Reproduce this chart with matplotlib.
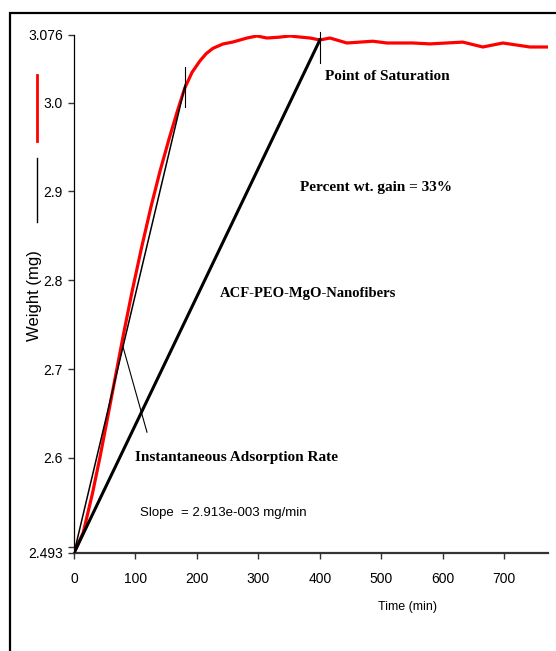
import matplotlib
matplotlib.use("Agg")
import matplotlib.pyplot as plt
from matplotlib.lines import Line2D
from matplotlib.patches import Rectangle

# weight uptake curve (red)
time_min = [0, 15, 30, 42, 54, 65, 81, 95, 110, 125, 140, 155, 168, 180, 192, 205,
            215, 226, 242.3, 258.5, 281.3, 297.6, 313.8, 333, 351.2, 367.5, 384,
            400, 416.3, 443.9, 486.2, 508.9, 551.2, 578.9, 632.5, 665, 697.6,
            741.5, 771]
weight_mg = [2.493, 2.516, 2.560, 2.600, 2.643, 2.683, 2.741, 2.789, 2.837, 2.882,
             2.923, 2.960, 2.990, 3.016, 3.034, 3.047, 3.055, 3.061, 3.0659, 3.0681,
             3.0726, 3.0749, 3.0726, 3.0735, 3.0749, 3.0737, 3.0726, 3.0704, 3.0726,
             3.067, 3.069, 3.067, 3.067, 3.066, 3.068, 3.0625, 3.067, 3.0625, 3.0625]

w0 = 2.493
tangent_slope = 2.913e-3   # mg/min
tangent_end = 181
saturation_time = 400
saturation_weight = 3.0705

x_ticks = [0, 100, 200, 300, 400, 500, 600, 700]
y_ticks = [2.493, 2.5, 2.6, 2.7, 2.8, 2.9, 3.0, 3.076]
y_ticklabels = ["2.493", "", "2.6", "2.7", "2.8", "2.9", "3.0", "3.076"]

sans = ["Liberation Sans", "DejaVu Sans"]
serif = ["Liberation Serif", "DejaVu Serif"]

W, H = 556, 651
fig = plt.figure(figsize=(W / 100, H / 100), dpi=100)
ax = fig.add_axes([74 / W, 1 - 553 / H, 474 / W, 518 / H])

ax.plot(time_min, weight_mg, color="red", lw=2.3, zorder=3)

# chord / tangent for the initial rate
ax.plot([0, tangent_end], [w0, w0 + tangent_slope * tangent_end], color="black", lw=1.1, zorder=4)
ax.plot([tangent_end, tangent_end], [2.995, 3.040], color="black", lw=0.8, zorder=4)

# line to the saturation point
ax.plot([0, saturation_time], [w0, saturation_weight], color="black", lw=2.2, zorder=4)
ax.plot([saturation_time, saturation_time], [3.045, 3.079], color="black", lw=0.8,
        zorder=4, clip_on=False)

# pointer for the rate label
ax.plot([79.7, 118.7], [2.725, 2.629], color="black", lw=0.8, zorder=4)

ax.set_xlim(0, 771)
ax.set_ylim(2.493, 3.076)
ax.set_xticks(x_ticks)
ax.set_xticklabels([str(t) for t in x_ticks], family=sans, fontsize=10)
ax.set_yticks(y_ticks)
ax.set_yticklabels(y_ticklabels, family=sans, fontsize=10)
ax.tick_params(axis="both", direction="out", length=4, width=1, color="#333333")
ax.tick_params(axis="y", pad=4)
ax.tick_params(axis="x", pad=10)

for side in ["top", "right"]:
    ax.spines[side].set_visible(False)
ax.spines["left"].set_linewidth(0.9)
ax.spines["bottom"].set_linewidth(1.6)
ax.spines["bottom"].set_color("#333333")

fig.text(408 / W, 1 - 607 / H, "Time (min)", family=sans, fontsize=9,
         ha="center", va="center")
fig.text(35 / W, 1 - 296 / H, "Weight (mg)", family=sans,
         fontsize=12, rotation=90, ha="center", va="center")

# series key on the left
fig.add_artist(Line2D([37 / W, 37 / W], [1 - 75 / H, 1 - 141 / H], color="red", lw=2))
fig.add_artist(Line2D([37 / W, 37 / W], [1 - 158 / H, 1 - 222 / H], color="black", lw=1))

# outer frame
fig.add_artist(Rectangle((10 / W, -0.1), 1.2, 1 - 13 / H + 0.1, transform=fig.transFigure,
                         fill=False, edgecolor="black", lw=1.6))

ann = dict(family=serif, fontsize=11, fontweight="bold", va="center", ha="left")
fig.text(325 / W, 1 - 77 / H, "Point of Saturation", **ann)
fig.text(300 / W, 1 - 187 / H, "Percent wt. gain = 33%", **ann)
fig.text(220 / W, 1 - 294 / H, "ACF-PEO-MgO-Nanofibers", **dict(ann, fontsize=10.5))
fig.text(135 / W, 1 - 458 / H, "Instantaneous Adsorption Rate", **ann)
fig.text(140 / W, 1 - 513 / H, "Slope  = 2.913e-003 mg/min", family=sans, fontsize=9.5,
         va="center", ha="left")

fig.savefig("out.png", dpi=100)
